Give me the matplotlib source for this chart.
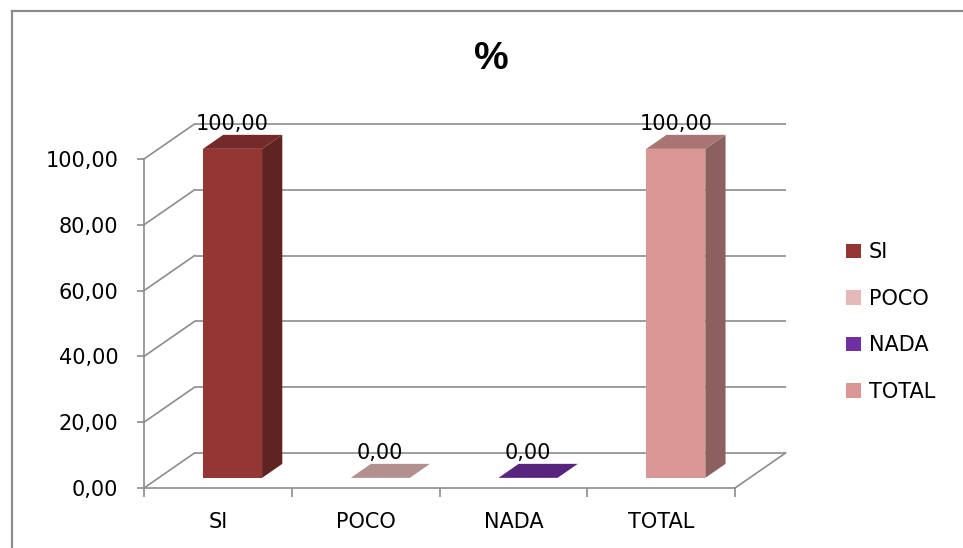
import matplotlib
matplotlib.use("Agg")
import matplotlib.pyplot as plt
import numpy as np
from matplotlib.patches import Patch
from matplotlib.lines import Line2D
from matplotlib.colors import to_rgb

# ---- data ----
categories = ["SI", "POCO", "NADA", "TOTAL"]
values = [100.0, 0.0, 0.0, 100.0]
colors = ["#943634", "#e6b9b8", "#7030a0", "#d99694"]
y_ticks = [0, 20, 40, 60, 80, 100]
title = "%"

def fmt(v):
    return f"{v:.2f}".replace(".", ",")

W, H = 963, 548
fig = plt.figure(figsize=(W / 100, H / 100), dpi=100)
fig.patch.set_facecolor("white")

# front plane of the 3-D box
ax = fig.add_axes([144 / W, (H - 488) / H, 591 / W, 329 / H])
ax.set_xlim(-0.5, len(categories) - 0.5)
ax.set_ylim(0, 100)
ax.set_facecolor("none")

GRID = "#8c8c8c"
FS = 15

# oblique depth offset (data units per full depth)
DX, DY = 0.342, 10.64

def proj(x, v, d):
    return x + d * DX, v + d * DY

# back wall gridlines, side wall diagonals and floor edges
x0, x1 = -0.5, len(categories) - 0.5
for t in y_ticks:
    ax.plot(*zip(proj(x0, t, 1), proj(x1, t, 1)), color=GRID, lw=1.2,
            zorder=1, clip_on=False, solid_capstyle="butt")
    ax.plot(*zip(proj(x0, t, 0), proj(x0, t, 1)), color=GRID, lw=1.2,
            zorder=1, clip_on=False)
ax.plot(*zip(proj(x1, 0, 0), proj(x1, 0, 1)), color=GRID, lw=1.2,
        zorder=1, clip_on=False)

# bars: front face, side face, top face
d0, d1 = 0.29, 0.69
bw = 0.40
xs = np.arange(len(categories))

def shade(c, f):
    r, g, b = to_rgb(c)
    return (r * f, g * f, b * f)

fronts = ax.bar(xs + d0 * DX, values, width=bw, bottom=d0 * DY,
                color=colors, zorder=3)
for p in fronts:
    p.set_clip_on(False)

for x, v, c in zip(xs, values, colors):
    l, r = x - bw / 2, x + bw / 2
    if v > 0:
        side = [proj(r, 0, d0), proj(r, v, d0), proj(r, v, d1), proj(r, 0, d1)]
        ax.fill(*zip(*side), color=shade(c, 0.64), zorder=3, clip_on=False, lw=0)
    top = [proj(l, v, d0), proj(r, v, d0), proj(r, v, d1), proj(l, v, d1)]
    ax.fill(*zip(*top), color=shade(c, 0.78), zorder=3, clip_on=False, lw=0)
    lx, ly = proj(x, v, d0)
    ax.text(lx, ly + 7.6, fmt(v), ha="center", va="center", fontsize=FS,
            color="black", zorder=4, clip_on=False)

# axes styling
for s in ["top", "right"]:
    ax.spines[s].set_visible(False)
ax.spines["left"].set_color(GRID)
ax.spines["bottom"].set_color(GRID)
ax.spines["left"].set_linewidth(1.2)
ax.spines["bottom"].set_linewidth(1.2)

ax.set_yticks(y_ticks)
ax.set_yticklabels([fmt(t) for t in y_ticks], fontsize=FS)
ax.tick_params(axis="y", length=5, width=1.2, color=GRID, pad=13.5)

ax.set_xticks(xs)
ax.set_xticklabels(categories, fontsize=FS)
ax.set_xticks(np.arange(len(categories) + 1) - 0.5, minor=True)
ax.tick_params(axis="x", which="major", length=0, pad=17)
ax.tick_params(axis="x", which="minor", length=6.5, width=1.2, color=GRID)

# title
fig.text(491 / W, 1 - 59 / H, title, ha="center", va="center", fontsize=28,
         fontweight="bold", family=["Liberation Sans Narrow", "Liberation Sans", "DejaVu Sans"])

# legend
handles = [Patch(facecolor=c, edgecolor="none", label=n) for n, c in zip(categories, colors)]
fig.legend(handles=handles, loc="center left", bbox_to_anchor=(846 / W, 1 - 322 / H),
           frameon=False, fontsize=FS, handlelength=0.7, handleheight=0.7,
           handletextpad=0.4, labelspacing=1.27, borderpad=0, borderaxespad=0)

# chart area border (left and top edges)
fig.add_artist(Line2D([12 / W, 12 / W], [0, 1 - 11 / H], transform=fig.transFigure,
                      color="#8a8a8a", lw=1.6))
fig.add_artist(Line2D([12 / W, 1], [1 - 11 / H, 1 - 11 / H], transform=fig.transFigure,
                      color="#8a8a8a", lw=1.6))

fig.savefig("out.png", dpi=100)
